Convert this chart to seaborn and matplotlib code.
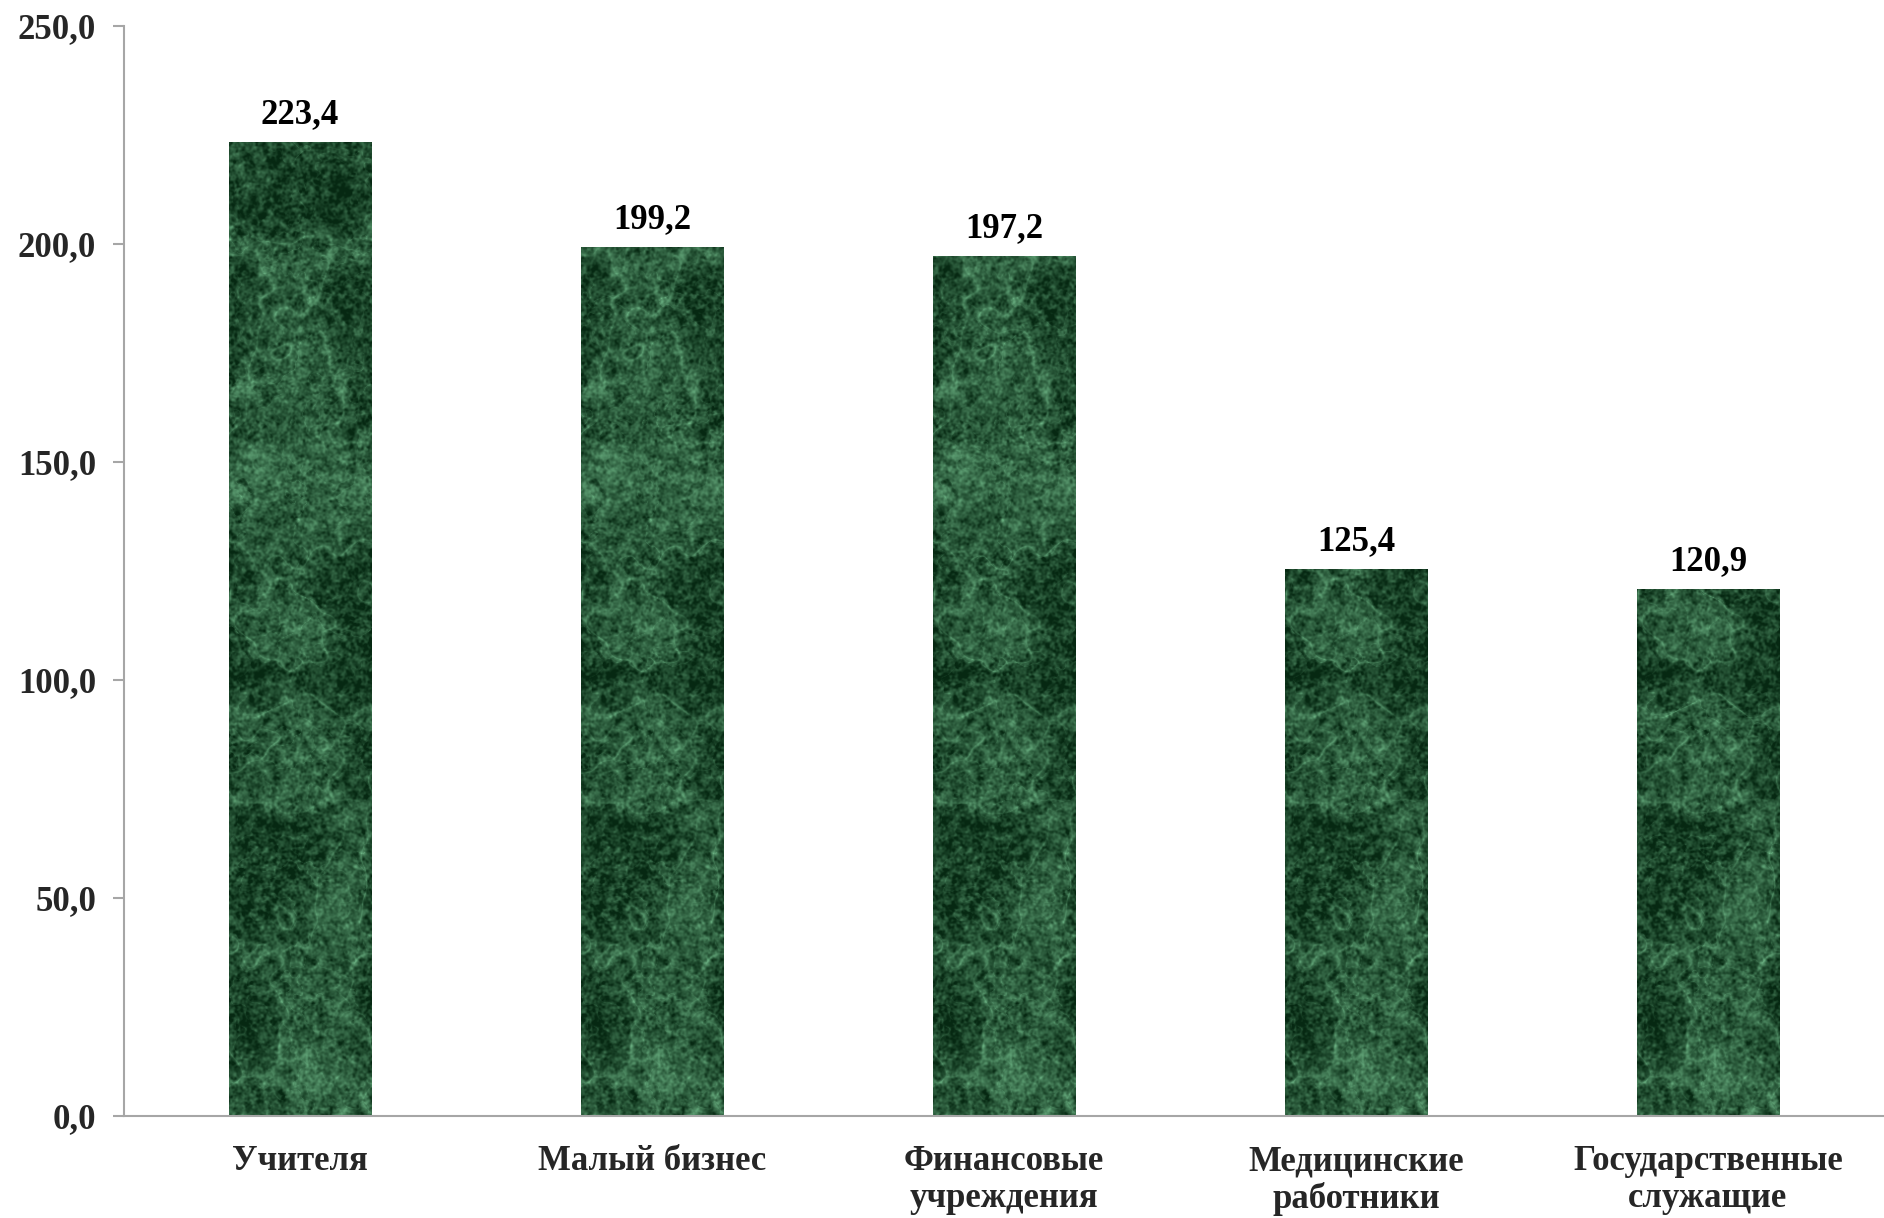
import numpy as np
import pandas as pd
import matplotlib
matplotlib.use("Agg")
import matplotlib.pyplot as plt
import seaborn as sns

categories = ["Учителя", "Малый бизнес", "Финансовые\nучреждения",
              "Медицинские\nработники", "Государственные\nслужащие"]
values = [223.4, 199.2, 197.2, 125.4, 120.9]
y_ticks = [0, 50, 100, 150, 200, 250]

sns.set_theme(style="white")
plt.rcParams["font.family"] = ["Liberation Serif", "DejaVu Serif"]
plt.rcParams["font.weight"] = "bold"

df = pd.DataFrame({"cat": categories, "val": values})

fig = plt.figure(figsize=(18.84, 12.18), dpi=100)
ax = fig.add_axes([0.0658, 0.0837, 0.9342, 0.895])

sns.barplot(data=df, x="cat", y="val", color="#1a5530", width=0.405,
            saturation=1, ax=ax)


def smooth_noise(shape, sigma, rng):
    """Gaussian-smoothed white noise via FFT, normalised to unit std."""
    h, w = shape
    n = rng.standard_normal(shape)
    fy = np.fft.fftfreq(h)[:, None]
    fx = np.fft.fftfreq(w)[None, :]
    k = np.exp(-2 * (np.pi * sigma) ** 2 * (fx ** 2 + fy ** 2))
    out = np.real(np.fft.ifft2(np.fft.fft2(n) * k))
    out -= out.mean()
    return out / (out.std() + 1e-9)


def marble_texture(h, w, seed=11):
    """Dark green marble: speckled grain with thin pale veins."""
    rng = np.random.default_rng(seed)
    large = smooth_noise((h, w), 22, rng)
    mid = smooth_noise((h, w), 8, rng)
    small = smooth_noise((h, w), 2.5, rng)
    fine = smooth_noise((h, w), 1.0, rng)
    veins = np.exp(-np.abs(large + 0.5 * mid) * 7.0)
    veins2 = np.exp(-np.abs(mid + 0.4 * small) * 10.0)
    t = (0.25 + 0.08 * large + 0.07 * small + 0.09 * fine
         + 0.30 * veins + 0.16 * veins2)
    t = np.clip(t, 0, 1)
    dark = np.array([6, 40, 18]) / 255.0
    light = np.array([120, 195, 145]) / 255.0
    img = dark[None, None, :] + (light - dark)[None, None, :] * t[..., None]
    return np.clip(img, 0, 1)


texture = marble_texture(1100, 145)

for i, patch in enumerate(ax.patches):
    x0 = patch.get_x()
    w = patch.get_width()
    h = patch.get_height()
    im = ax.imshow(texture, extent=[x0, x0 + w, 0, 250], aspect="auto",
                   origin="lower", zorder=patch.get_zorder() + 0.1,
                   interpolation="bilinear")
    im.set_clip_path(patch)
    label = f"{values[i]:.1f}".replace(".", ",")
    ax.annotate(label, (x0 + w / 2, h), xytext=(0, 8),
                textcoords="offset points", ha="center", va="bottom",
                fontsize=25, fontweight="bold", color="black")

ax.set_xlim(-0.5, len(categories) - 0.5)
ax.set_ylim(0, 250)
ax.set_yticks(y_ticks)
ax.set_yticklabels([f"{t:.1f}".replace(".", ",") for t in y_ticks],
                   fontsize=25, fontweight="bold")
ax.set_xticks(range(len(categories)))
ax.set_xticklabels(categories, fontsize=25, fontweight="bold",
                   linespacing=1.15)
ax.set_xticks(np.arange(-0.5, len(categories)), minor=True)
ax.tick_params(axis="x", which="major", length=0, pad=21)
ax.tick_params(axis="x", which="minor", length=10, width=1.5,
               color="#a6a6a6", direction="out")
ax.tick_params(axis="y", length=8, width=1.5, color="#a6a6a6",
               direction="out", pad=12, left=True)
ax.set_xlabel("")
ax.set_ylabel("")
for side in ("top", "right"):
    ax.spines[side].set_visible(False)
for side in ("left", "bottom"):
    ax.spines[side].set_color("#a6a6a6")
    ax.spines[side].set_linewidth(1.5)
ax.set_facecolor("white")
fig.patch.set_facecolor("white")

fig.savefig("out.png", dpi=100, facecolor="white")
